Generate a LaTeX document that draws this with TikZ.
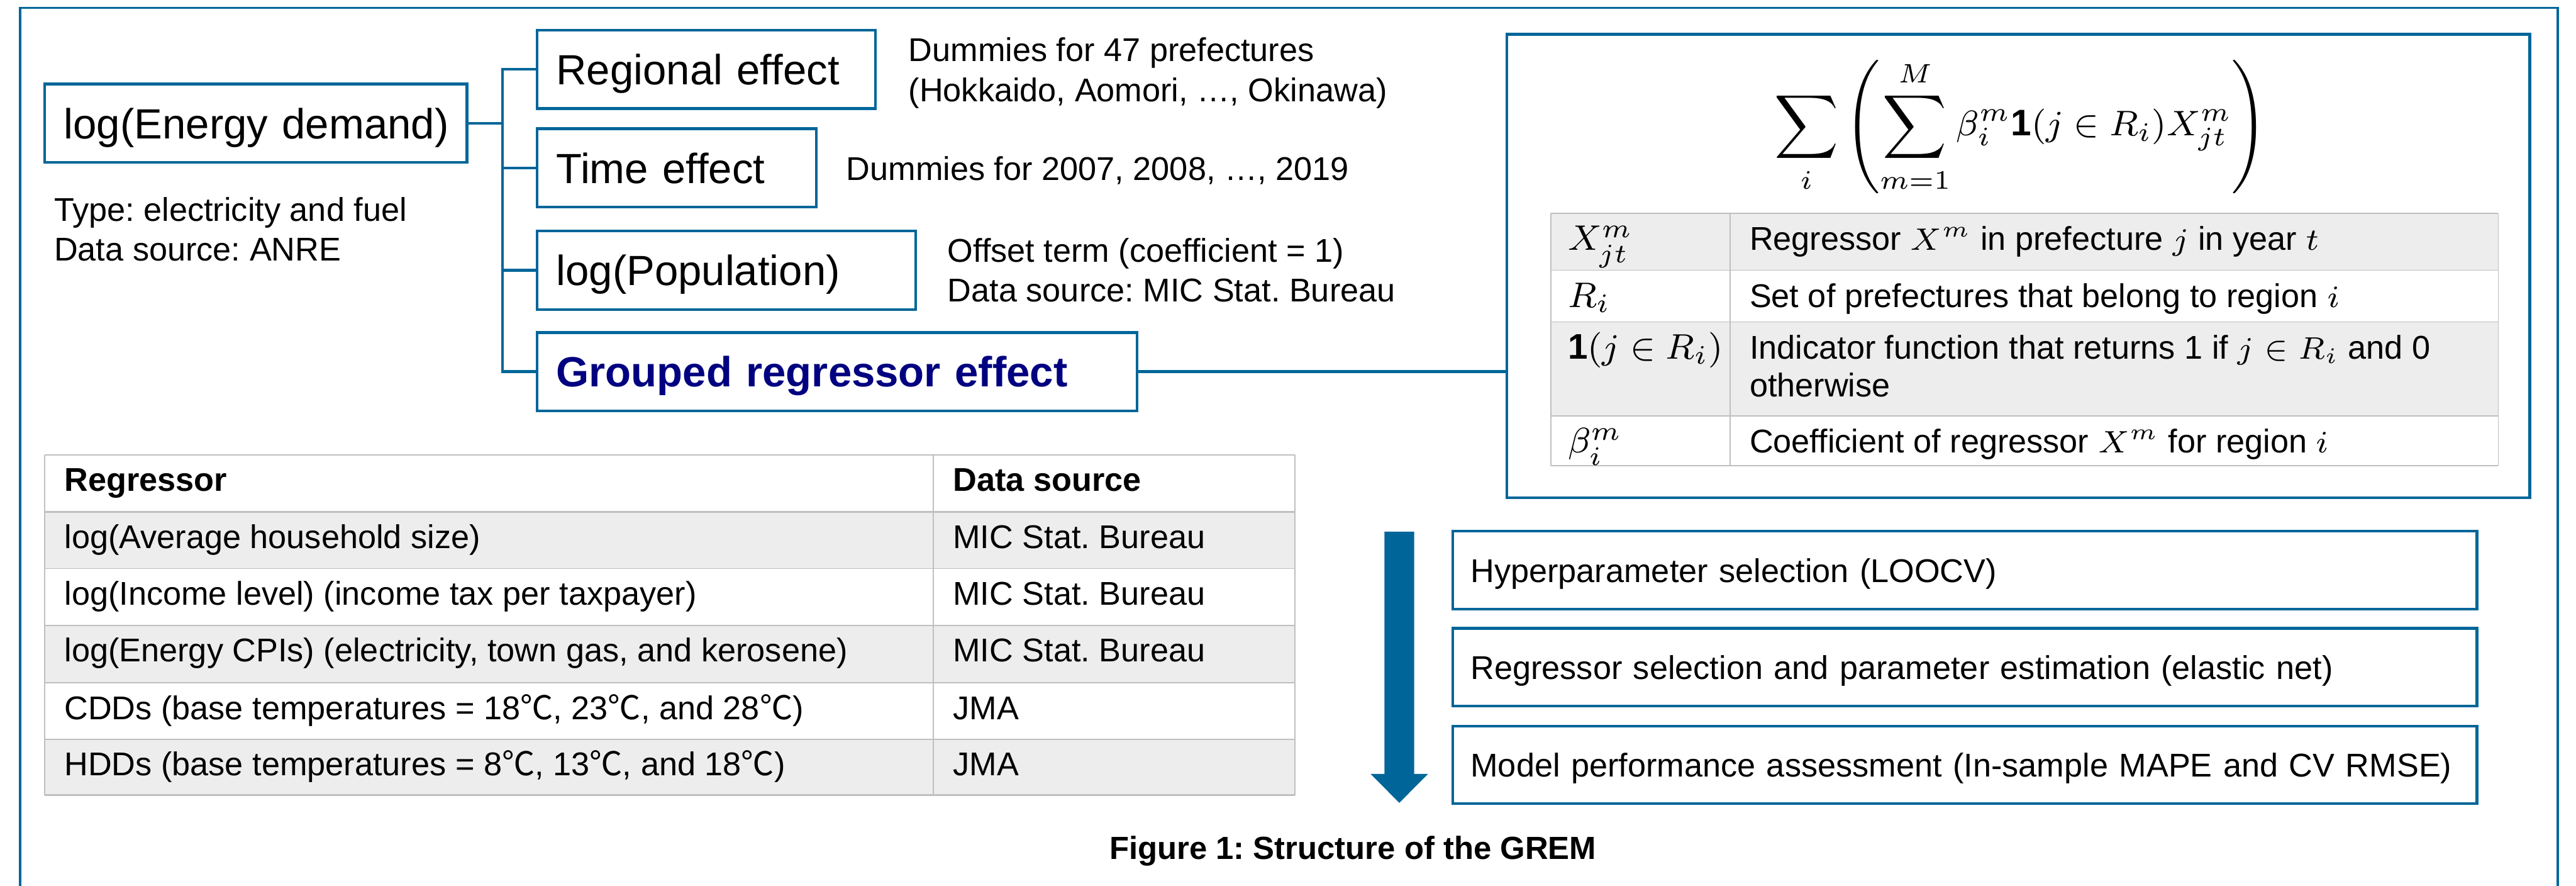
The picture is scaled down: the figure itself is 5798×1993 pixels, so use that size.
\documentclass[tikz,border=0pt]{standalone}
\usepackage{fontspec}
\setmainfont{Liberation Sans}
\newfontfamily\cjkfont{Noto Sans CJK JP}
\definecolor{gremblue}{RGB}{0,102,153}
\definecolor{navytxt}{RGB}{0,0,128}
\definecolor{rowgray}{RGB}{237,237,237}
\definecolor{rulegray}{RGB}{191,191,191}
\newcommand{\degc}{{\cjkfont ℃}}
\frenchspacing
\begin{document}
\begin{tikzpicture}[x=0.1pt,y=-0.1pt,
  treebox/.style={draw=gremblue, line width=0.6pt, rectangle, inner xsep=4.3pt, inner ysep=0pt,
    align=left, minimum height=17.6pt, text height=6.9pt, text depth=0pt,
    font=\fontsize{9.5}{11.4}\selectfont},
  flowbox/.style={draw=gremblue, line width=0.6pt, rectangle, inner xsep=4pt, inner ysep=0pt,
    align=left, minimum height=17.5pt, text width=222.5pt, text height=5.4pt, text depth=0pt,
    font=\fontsize{7.4}{9}\selectfont},
  lbl/.style={anchor=base west, inner sep=0pt, font=\fontsize{7.4}{9}\selectfont},
  conn/.style={draw=gremblue, line width=0.6pt},
  thinrule/.style={draw=rulegray, line width=0.25pt},
  thickrule/.style={draw=rulegray, line width=0.45pt},
]
\useasboundingbox (0,0) rectangle (5798,1993);
% outer frame
\draw[gremblue, line width=0.5pt] (45,1993) -- (45,18) -- (5757,18) -- (5757,1993);

% tree boxes
\node[treebox, text width=86.4pt] (energy) at (576,277) {\mbox{log(Energy demand)}};
\node[treebox, text width=67.5pt] (regional) at (1589.5,156) {\mbox{Regional effect}};
\node[treebox, text width=54.2pt] (time) at (1523,377.5) {\mbox{Time effect}};
\node[treebox, text width=76.6pt] (pop) at (1635,608) {\mbox{log(Population)}};
\node[treebox, text width=126.4pt, text=navytxt, font=\fontsize{9.5}{11.4}\selectfont\bfseries] (grouped) at (1884,836) {\mbox{Grouped regressor effect}};

\coordinate (trunk) at (1131,156);
\draw[conn] (energy.east) -- (energy.east -| trunk);
\draw[conn] (regional.west) -- (regional.west -| trunk) -- (grouped.west -| trunk) -- (grouped.west);
\draw[conn] (time.west) -- (time.west -| trunk);
\draw[conn] (pop.west) -- (pop.west -| trunk);

% side labels
\node[lbl] (type) at (120,498) {Type: electricity and fuel};
\node[lbl] (anre) at (120,587) {Data source: ANRE};
\node[lbl] (dum1) at (2043,138) {Dummies for 47 prefectures};
\node[lbl] (dum2) at (2043,229) {(Hokkaido, Aomori, …, Okinawa)};
\node[lbl] (dumt) at (1903,405) {Dummies for 2007, 2008, …, 2019};
\node[lbl] (offs) at (2131,589) {Offset term (coefficient = 1)};
\node[lbl] (mic) at (2131,679) {Data source: MIC Stat. Bureau};

% formula box
\node[draw=gremblue, line width=0.6pt, minimum width=230.2pt, minimum height=104.3pt, inner sep=0pt] (fbox) at (4543,598.5) {};
\draw[conn] (grouped.east) -- (grouped.east -| fbox.west);
\node[inner sep=0pt, font=\fontsize{8.3}{10}\selectfont] (formula) at (4548,285)
  {$\displaystyle \sum_i \left( \sum_{m=1}^{M} \beta_i^m \mathbf{1}(j\in R_i) X_{jt}^m \right)$};

% definitions table
\fill[rowgray] (3491,480) rectangle (5623,608);
\fill[rowgray] (3491,724) rectangle (5623,936);
\foreach \yy in {480,608,724,936,1048} {\draw[thinrule] (3491,\yy) -- (5623,\yy);}
\draw[thinrule] (3491,480) -- (3491,1048);
\draw[thinrule] (3894,480) -- (3894,1048);
\draw[thinrule] (5623,480) -- (5623,1048);
\node[lbl, font=\fontsize{8}{9}\selectfont] (s1) at (3527,563) {$X_{jt}^m$};
\node[lbl] (d1) at (3936,563) {Regressor $X^m$ in prefecture $j$ in year $t$};
\node[lbl, font=\fontsize{8}{9}\selectfont] (s2) at (3527,691) {$R_i$};
\node[lbl] (d2) at (3936,691) {Set of prefectures that belong to region $i$};
\node[lbl, font=\fontsize{8}{9}\selectfont] (s3) at (3527,807) {$\mathbf{1}(j\in R_i)$};
\node[lbl] (d3) at (3936,807) {Indicator function that returns 1 if $j\in R_i$ and 0};
\node[lbl] (d3b) at (3936,892) {otherwise};
\node[lbl, font=\fontsize{8}{9}\selectfont] (s4) at (3527,1019) {$\beta_i^m$};
\node[lbl] (d4) at (3936,1019) {Coefficient of regressor $X^m$ for region $i$};

% regressor table
\fill[rowgray] (100,1151) rectangle (2914,1279);
\fill[rowgray] (100,1407) rectangle (2914,1536);
\fill[rowgray] (100,1663) rectangle (2914,1789);
\draw[thinrule] (100,1023) -- (2914,1023);
\foreach \yy in {1279,1407,1536,1663} {\draw[thinrule] (100,\yy) -- (2914,\yy);}
\draw[thickrule] (100,1151) -- (2914,1151);
\draw[thickrule] (100,1789) -- (2914,1789);
\draw[thinrule] (100,1023) -- (100,1789);
\draw[thinrule] (2101,1023) -- (2101,1789);
\draw[thinrule] (2914,1023) -- (2914,1789);
\node[lbl, font=\fontsize{7.4}{9}\selectfont\bfseries] (h1) at (143,1105) {Regressor};
\node[lbl, font=\fontsize{7.4}{9}\selectfont\bfseries] (h2) at (2143,1105) {Data source};
\node[lbl] (r1) at (143,1233) {log(Average household size)};
\node[lbl] (q1) at (2143,1233) {MIC Stat. Bureau};
\node[lbl] (r2) at (143,1361) {log(Income level) (income tax per taxpayer)};
\node[lbl] (q2) at (2143,1361) {MIC Stat. Bureau};
\node[lbl] (r3) at (143,1489) {log(Energy CPIs) (electricity, town gas, and kerosene)};
\node[lbl] (q3) at (2143,1489) {MIC Stat. Bureau};
\node[lbl] (r4) at (143,1618) {CDDs (base temperatures = 18\degc, 23\degc, and 28\degc)};
\node[lbl] (q4) at (2143,1618) {JMA};
\node[lbl] (r5) at (143,1745) {HDDs (base temperatures = 8\degc, 13\degc, and 18\degc)};
\node[lbl] (q5) at (2143,1745) {JMA};

% flow arrow and steps
\fill[gremblue] (3116,1196) -- (3183,1196) -- (3183,1741) -- (3214,1741) -- (3149.5,1806) -- (3085,1741) -- (3116,1741) -- cycle;
\node[flowbox] (hyper) at (4422.5,1282.5) {Hyperparameter selection (LOOCV)};
\node[flowbox] (select) at (4422.5,1501) {Regressor selection and parameter estimation (elastic net)};
\node[flowbox] (assess) at (4422.5,1720.5) {Model performance assessment (In-sample MAPE and CV RMSE)};

% caption
\node[anchor=base, inner sep=0pt, font=\fontsize{7.2}{9}\selectfont\bfseries] (caption) at (3045,1933) {Figure 1: Structure of the GREM};
\end{tikzpicture}
\end{document}
